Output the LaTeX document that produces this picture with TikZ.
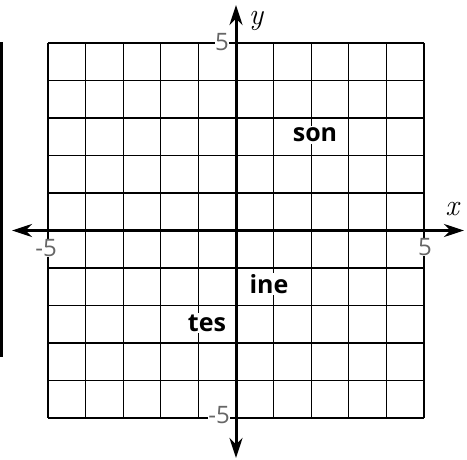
\documentclass[tikz,border=0pt]{standalone}
\usepackage{fontspec}
\newfontfamily\labfont{Open Sans}
\usetikzlibrary{arrows.meta}
\begin{document}
\begin{tikzpicture}[x=1pt,y=-1pt,
  gridline/.style={line width=1.3pt},
  axisline/.style={line width=3pt,{Stealth[length=20pt,width=13pt]}-{Stealth[length=20pt,width=13pt]}},
  word/.style={fill=white,inner sep=1.5pt,font=\labfont\bfseries\fontsize{25}{28}\selectfont},
  num/.style={fill=white,inner sep=0.5pt,text=black!60,font=\labfont\fontsize{24}{26}\selectfont},
  axlab/.style={inner sep=0pt,anchor=base,font=\itshape\fontsize{30}{32}\selectfont}]
\useasboundingbox (0,0) rectangle (467,460);
\fill (0,42) rectangle (3,357);
\foreach \i in {0,...,10} {
  \draw[gridline] ({48+\i*37.6},43) -- ({48+\i*37.6},418);
  \draw[gridline] (48,{43+\i*37.5}) -- (424,{43+\i*37.5});
}
\node[word] (son) at (315,135) {son};
\node[word] (ine) at (269,284) {ine};
\node[word] (tes) at (207,323) {tes};
\node[num] (ytop) at (222,42) {5};
\node[num] (ybot) at (219,415) {-5};
\node[num] (xleft) at (46,248) {-5};
\node[num] (xright) at (425,247) {5};
\coordinate (xl) at (12,230.5);
\coordinate (xr) at (464,230.5);
\coordinate (yt) at (236,5);
\coordinate (yb) at (236,458);
\draw[axisline] (xl) -- (xr);
\draw[axisline] (yb) -- (yt);
\node[axlab] (ylab) at (256,25) {y};
\node[axlab] (xlab) at (452,216) {x};
\end{tikzpicture}
\end{document}
